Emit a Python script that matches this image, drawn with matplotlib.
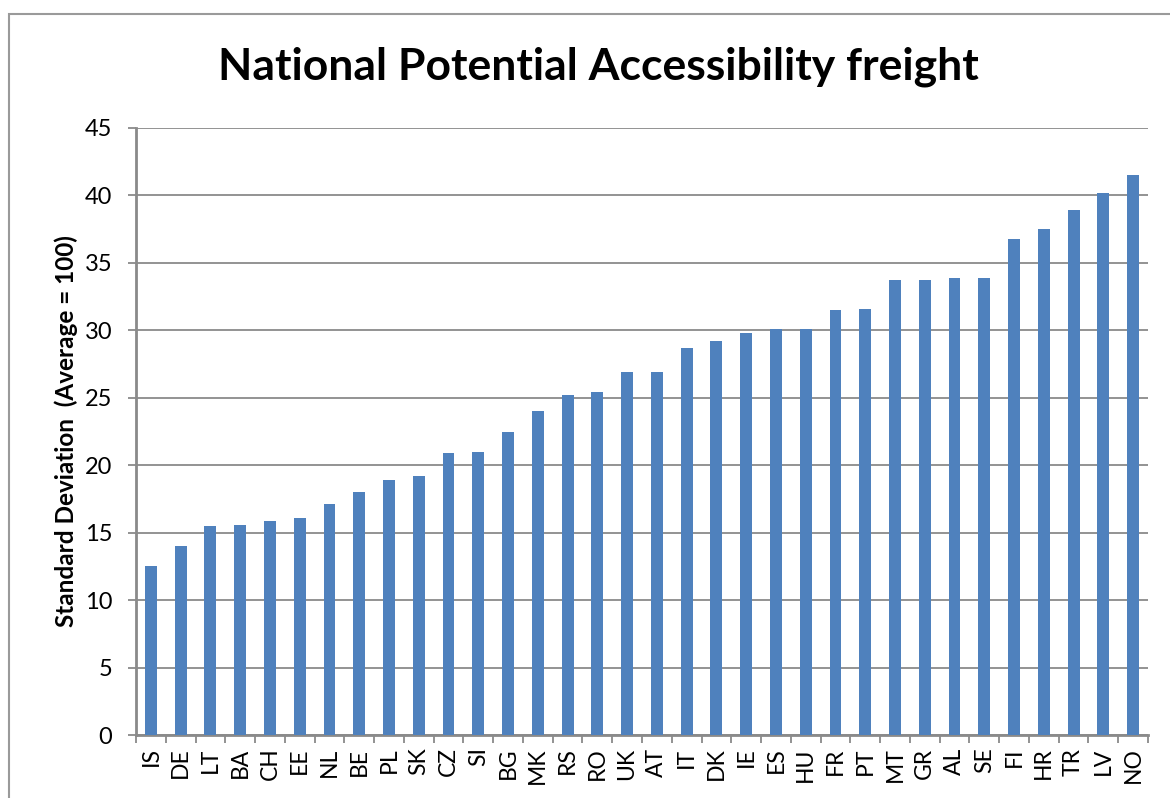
import numpy as np
import matplotlib
matplotlib.use("Agg")
from matplotlib import pyplot as plt
from matplotlib.patches import Rectangle

# country codes and values
countries = ["IS", "DE", "LT", "BA", "CH", "EE", "NL", "BE", "PL", "SK", "CZ", "SI",
             "BG", "MK", "RS", "RO", "UK", "AT", "IT", "DK", "IE", "ES", "HU", "FR",
             "PT", "MT", "GR", "AL", "SE", "FI", "HR", "TR", "LV", "NO"]
values = [12.5, 14.0, 15.5, 15.6, 15.9, 16.1, 17.1, 18.0, 18.9, 19.2, 20.9, 21.0,
          22.5, 24.0, 25.2, 25.4, 26.9, 26.9, 28.7, 29.2, 29.8, 30.1, 30.1, 31.5,
          31.6, 33.7, 33.7, 33.9, 33.9, 36.8, 37.5, 38.9, 40.2, 41.5]
yticks = list(range(0, 50, 5))

plt.rcParams['font.family'] = ['Lato', 'DejaVu Sans']

fig = plt.figure(figsize=(11.7, 7.98), dpi=100)
ax = fig.add_axes([136/1170, 63/798, 1012/1170, 607/798])

# outer chart border
fig.patches.append(Rectangle((9/1170, -0.05), 1.2, (798-14)/798 + 0.05,
                             transform=fig.transFigure, fill=False,
                             edgecolor="#9a9a9a", linewidth=1.5))

x = np.arange(len(countries))
ax.bar(x, values, width=0.4, color="#4F81BD", zorder=3)

ax.set_xlim(-0.5, len(countries) - 0.5)
ax.set_ylim(0, 45)
ax.set_yticks(yticks)
ax.set_yticklabels([str(t) for t in yticks], fontsize=17)
ax.yaxis.grid(True, color="#8a8a8a", linewidth=1.3, zorder=0)

ax.set_xticks(x)
ax.set_xticklabels(countries, rotation=90, fontsize=16.5)
ax.set_xticks(np.arange(len(countries) + 1) - 0.5, minor=True)
ax.tick_params(axis="x", which="major", length=0, pad=9)
ax.tick_params(axis="x", which="minor", length=6, color="#8a8a8a", width=1.3)
ax.tick_params(axis="y", length=6, color="#8a8a8a", width=1.3, pad=11)

for s in ["top", "right"]:
    ax.spines[s].set_visible(False)
for s in ["left", "bottom"]:
    ax.spines[s].set_color("#8a8a8a")
    ax.spines[s].set_linewidth(2)

ax.set_ylabel("Standard Deviation  (Average = 100)", fontsize=17.5, fontweight="bold", labelpad=5)
fig.text(598/1170, 1 - 67/798, "National Potential Accessibility freight",
         ha="center", va="center", fontsize=32, fontweight="bold")

fig.savefig("out.png", dpi=100)
